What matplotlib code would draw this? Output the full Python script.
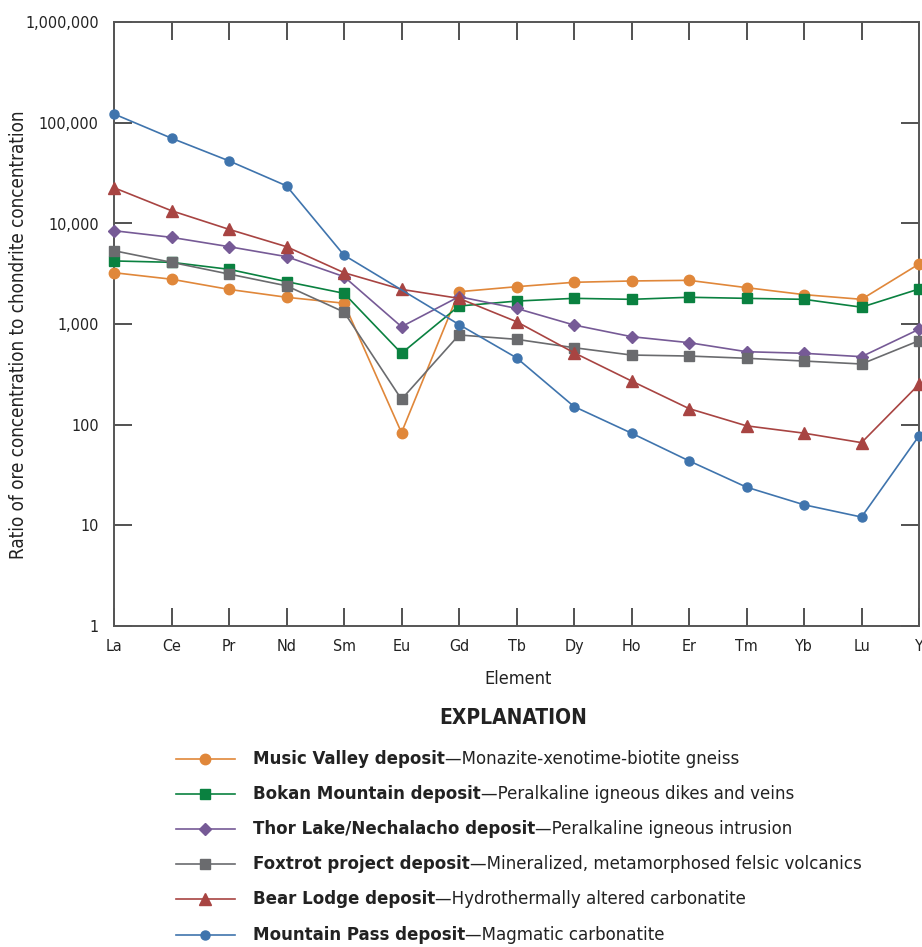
import numpy as np
import matplotlib
matplotlib.use("Agg")
import matplotlib.pyplot as plt
from matplotlib.lines import Line2D
from matplotlib.ticker import FixedLocator, NullLocator

plt.rcParams["font.family"] = ["DejaVu Sans"]
plt.rcParams["font.stretch"] = "condensed"

elements = ["La", "Ce", "Pr", "Nd", "Sm", "Eu", "Gd", "Tb", "Dy", "Ho", "Er", "Tm", "Yb", "Lu", "Y"]

# ratio of ore concentration to chondrite concentration
music_valley = [3240, 2790, 2210, 1845, 1610, 83, 2095, 2350, 2600, 2680, 2720, 2300, 1960, 1760, 3950]
bokan_mountain = [4240, 4110, 3500, 2640, 2020, 511, 1510, 1690, 1800, 1760, 1845, 1800, 1760, 1470, 2230]
thor_lake = [8480, 7280, 5880, 4680, 2960, 940, 1870, 1430, 977, 748, 652, 530, 511, 473, 886]
foxtrot = [5360, 4110, 3140, 2400, 1316, 178, 778, 704, 581, 491, 480, 456, 428, 400, 682]
bear_lodge = [22700, 13400, 8750, 5880, 3240, 2210, 1800, 1055, 518, 271, 144, 97, 82, 66, 251]
mountain_pass = [123000, 70600, 42000, 23700, 4840, np.nan, 988, 461, 151, 82, 43.5, 23.8, 15.9, 12.0, 77]

series = [
    ("Music Valley deposit", "Monazite-xenotime-biotite gneiss", music_valley, "#E0873A", "o", 7.5),
    ("Bokan Mountain deposit", "Peralkaline igneous dikes and veins", bokan_mountain, "#0A8140", "s", 7.5),
    ("Thor Lake/Nechalacho deposit", "Peralkaline igneous intrusion", thor_lake, "#765A96", "D", 6.5),
    ("Foxtrot project deposit", "Mineralized, metamorphosed felsic volcanics", foxtrot, "#6A6B6E", "s", 7.5),
    ("Bear Lodge deposit", "Hydrothermally altered carbonatite", bear_lodge, "#A84442", "^", 8.5),
    ("Mountain Pass deposit", "Magmatic carbonatite", mountain_pass, "#3F74AD", "o", 6.5),
]

fig = plt.figure(figsize=(9.22, 9.47), dpi=100)
ax = fig.add_axes([114 / 922, 321.5 / 947, 805 / 922, 603 / 947])

x = np.arange(len(elements))
draw_order = [5, 4, 1, 2, 3, 0]
for i in draw_order:
    name, desc, vals, col, mk, ms = series[i]
    v = np.array(vals, dtype=float)
    ok = ~np.isnan(v)  # Mountain Pass has no Eu point, line goes Sm -> Gd
    ax.plot(x[ok], v[ok], color=col, marker=mk, markersize=ms, lw=1.2,
            markeredgecolor=col, clip_on=False, zorder=3 + i)

ax.set_yscale("log")
ax.set_ylim(1, 1e6)
ax.set_xlim(0, len(elements) - 1)
yt = [1, 10, 100, 1000, 10000, 100000, 1000000]
ax.yaxis.set_major_locator(FixedLocator(yt))
ax.yaxis.set_minor_locator(NullLocator())
ax.set_yticklabels([f"{v:,}" for v in yt])
ax.set_xticks(x)
ax.set_xticklabels(elements)

for s in ax.spines.values():
    s.set_color("#555555")
    s.set_linewidth(1.4)
ax.tick_params(axis="both", which="major", direction="in", length=13, width=1.2,
               color="#333333", labelsize=11.5, labelcolor="#222222",
               top=True, right=True, pad=10)
ax.tick_params(axis="y", pad=11)

ax.set_xlabel("Element", fontsize=13, color="#222222")
ax.xaxis.set_label_coords(0.502, -0.073)
ax.set_ylabel("Ratio of ore concentration to chondrite concentration", fontsize=13.5,
              color="#222222")
ax.yaxis.set_label_coords(-0.107, 0.483)

# explanation block
fig.text(513 / 922, 1 - 718 / 947, "EXPLANATION", ha="center", va="center",
         fontsize=15, fontweight="bold", color="#222222")
row_y = [759, 794, 829, 864, 899, 935]
for (name, desc, vals, col, mk, ms), yy in zip(series, row_y):
    yf = 1 - yy / 947
    fig.add_artist(Line2D([176 / 922, 235 / 922], [yf, yf], color=col, lw=1.2,
                          transform=fig.transFigure))
    fig.add_artist(Line2D([205 / 922], [yf], color=col, marker=mk, markersize=ms,
                          markeredgecolor=col, transform=fig.transFigure))
    t = fig.text(253 / 922, yf, name, ha="left", va="center", fontsize=13.3,
                 fontweight="bold", color="#222222")
    ax.annotate("\u2014" + desc, xy=(1, 0.5), xycoords=t, ha="left", va="center",
                fontsize=13.3, color="#222222", annotation_clip=False)

fig.savefig("out.png", dpi=100)
